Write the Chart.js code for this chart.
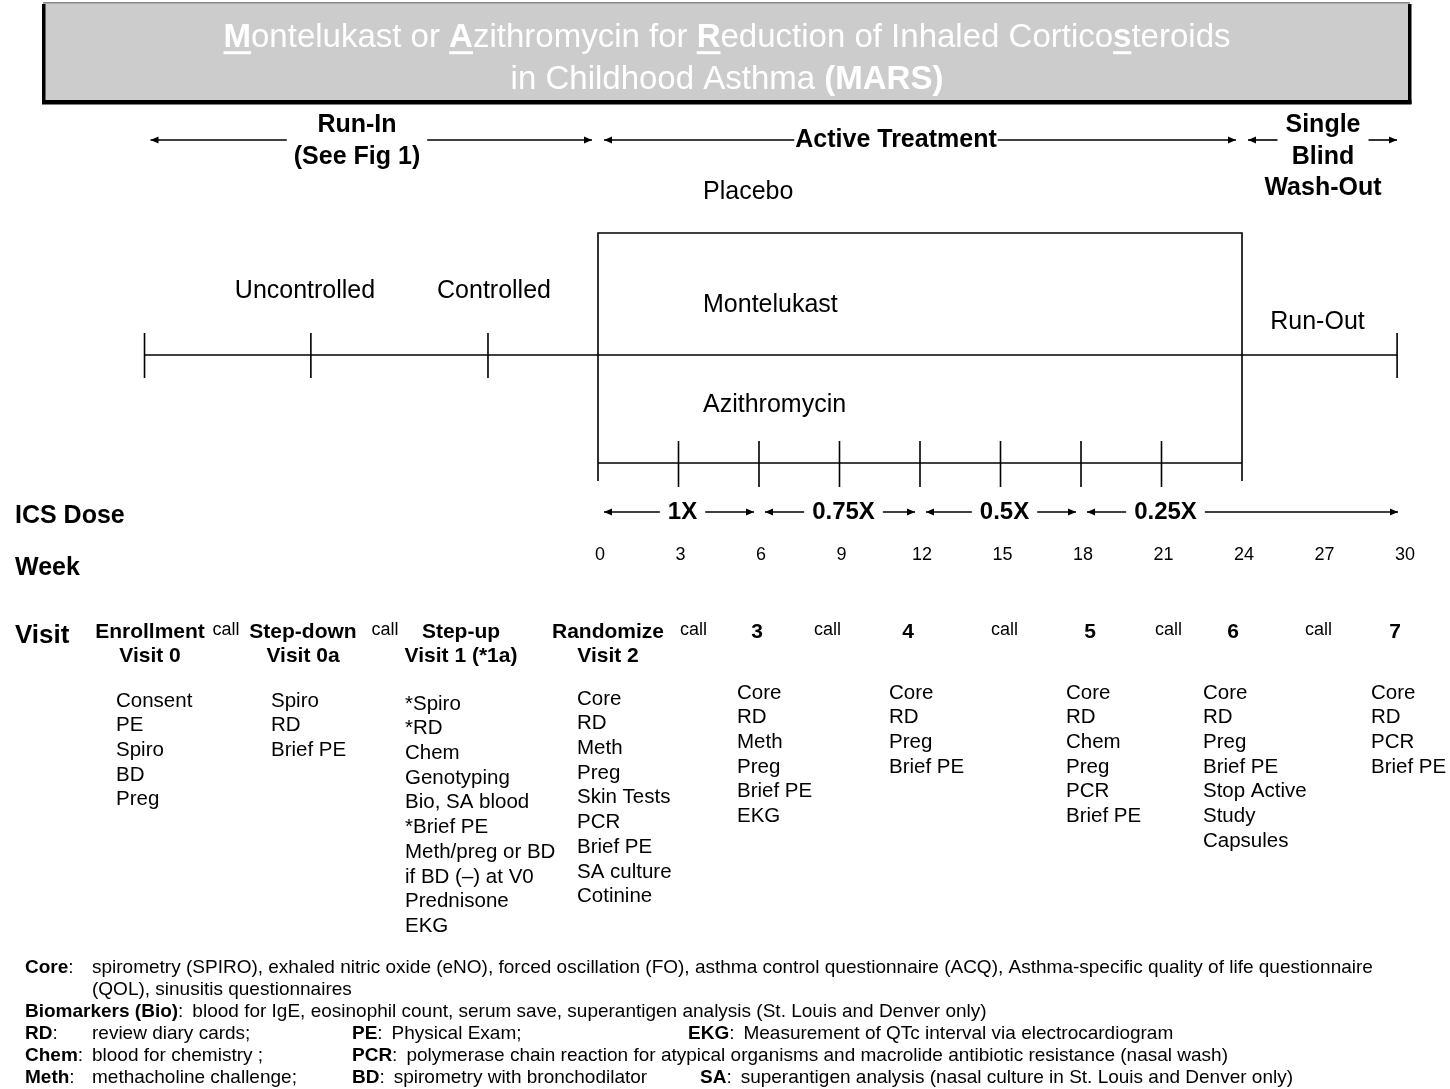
<!DOCTYPE html>
<html>
<head>
<meta charset="utf-8">
<title>MARS study design</title>
<script src="https://cdn.jsdelivr.net/npm/chart.js@4.4.1/dist/chart.umd.min.js"></script>
<style>
  html, body { margin: 0; padding: 0; background: #fff; }
  #wrap { position: relative; width: 1450px; height: 1089px; }
</style>
</head>
<body>
<div id="wrap"><canvas id="design"></canvas></div>
<script>
// ---- study timeline (weeks) ----
const weeks = [0, 3, 6, 9, 12, 15, 18, 21, 24, 27, 30];
const treatmentTicks = [3, 6, 9, 12, 15, 18, 21];
const treatmentStart = 0;
const treatmentEnd = 24;
const studyEnd = 30;

// run-in is drawn schematically before week 0 (not to scale)
const runInTicks = [-16.9, -10.7, -4.1];
const runInLabels = ['Uncontrolled', 'Controlled'];

const phaseNames = [['Run-In', '(See Fig 1)'], ['Active Treatment'], ['Single', 'Blind', 'Wash-Out']];
const phaseStart = [-16.9, 0, 24];
const phaseEnd = [0, 24, 30];

const armNames = ['Placebo', 'Montelukast', 'Azithromycin'];

const doseNames = ['1X', '0.75X', '0.5X', '0.25X'];
const doseStart = [0, 6, 12, 18];
const doseEnd = [6, 12, 18, 30];
const doseLabelWeek = [3, 9, 15, 21];

const runInVisitNames = [['Enrollment', 'Visit 0'], ['Step-down', 'Visit 0a'], ['Step-up', 'Visit 1 (*1a)']];
const visitWeeks = [0, 6, 12, 18, 24, 30];
const visitNames = [['Randomize', 'Visit 2'], ['3'], ['4'], ['5'], ['6'], ['7']];
const callWeeks = [3, 9, 15, 21, 27];

const visitProcedures = [
  ['Consent', 'PE', 'Spiro', 'BD', 'Preg'],
  ['Spiro', 'RD', 'Brief PE'],
  ['*Spiro', '*RD', 'Chem', 'Genotyping', 'Bio, SA blood', '*Brief PE', 'Meth/preg or BD', 'if BD (\u2013) at V0', 'Prednisone', 'EKG'],
  ['Core', 'RD', 'Meth', 'Preg', 'Skin Tests', 'PCR', 'Brief PE', 'SA culture', 'Cotinine'],
  ['Core', 'RD', 'Meth', 'Preg', 'Brief PE', 'EKG'],
  ['Core', 'RD', 'Preg', 'Brief PE'],
  ['Core', 'RD', 'Chem', 'Preg', 'PCR', 'Brief PE'],
  ['Core', 'RD', 'Preg', 'Brief PE', 'Stop Active', 'Study', 'Capsules'],
  ['Core', 'RD', 'PCR', 'Brief PE']
];

const glossaryTerms = ['Core', '', 'Biomarkers (Bio)', 'RD', 'PE', 'EKG', 'Chem', 'PCR', 'Meth', 'BD', 'SA'];
const glossaryTexts = [
  'spirometry (SPIRO), exhaled nitric oxide (eNO), forced oscillation (FO), asthma control questionnaire (ACQ), Asthma-specific quality of life questionnaire',
  '(QOL), sinusitis questionnaires',
  'blood for IgE, eosinophil count, serum save, superantigen analysis (St. Louis and Denver only)',
  'review diary cards;',
  'Physical Exam;',
  'Measurement of QTc interval via electrocardiogram',
  'blood for chemistry ;',
  'polymerase chain reaction for atypical organisms and macrolide antibiotic resistance (nasal wash)',
  'methacholine challenge;',
  'spirometry with bronchodilator',
  'superantigen analysis (nasal culture in St. Louis and Denver only)'
];

const titleLines = [
  [{ t: 'M', b: 1, u: 1 }, { t: 'ontelukast or ' }, { t: 'A', b: 1, u: 1 }, { t: 'zithromycin for ' },
   { t: 'R', b: 1, u: 1 }, { t: 'eduction of Inhaled Cortico' }, { t: 's', b: 1, u: 1 }, { t: 'teroids' }],
  [{ t: 'in Childhood Asthma ' }, { t: '(MARS)', b: 1 }]
];

// ---- layout ----
const PX_WEEK = 644 / 24;              // week 0 sits at x=598, week 24 at x=1242
const X_MIN = -598 / PX_WEEK;
const X_MAX = (1450 - 598) / PX_WEEK;
const FONT = '"Liberation Sans", Arial, sans-serif';
const ROW = {
  phase: 140, phaseLine: [125, 157, 188], boxTop: 233, runInLabel: 291,
  runOut: 322, timeline: 355, treat: 463, treatBottom: 481,
  dose: 512, doseLabel: 516, week: 555, weekLabel: 568, visit: 632, visit2: 656, visitLabel: 636
};
const phaseLabelX = [357, 896, 1323];
const phaseGap = [7, 1, 8];
const runInLabelX = [305, 494];
const armX = 703;
const armY = [192, 305, 405];
const runInVisitX = [150, 303, 461];
const runInCallX = [226, 385];
const visitOffset = [10, -2, -12, 9, -9, -8];   // visit header nudges (schematic, not to scale)
const callOffset = [15, -12, 4, 7, -4];
const listLeft = [116, 271, 405, 577, 737, 889, 1066, 1203, 1371];
const listTop = [701, 701, 704, 699, 693, 693, 693, 693, 693];
const LIST_STEP = 24.7;
const GLOSS_SIZE = 19;
const glossaryX = [25, 92, 25, 25, 352, 688, 25, 352, 25, 352, 700];
const glossaryY = [968, 990, 1012, 1034, 1034, 1034, 1056, 1056, 1078, 1078, 1078];
const GLOSS_TEXT_X = 92;

const seg = (pts, w) => ({
  data: pts.map(([x, y]) => ({ x, y })),
  showLine: true,
  borderColor: '#000',
  borderWidth: w || 1.6,
  pointRadius: 0,
  tension: 0,
  fill: false
});

const datasets = [];
// run-in + overall timeline
datasets.push(seg([[runInTicks[0], ROW.timeline], [studyEnd - 0.22, ROW.timeline]]));
runInTicks.concat([studyEnd - 0.22]).forEach(w => {
  datasets.push(seg([[w, ROW.timeline - 22], [w, ROW.timeline + 23]]));
});
// treatment arms box
datasets.push(seg([[treatmentStart, ROW.treatBottom], [treatmentStart, ROW.boxTop],
                   [treatmentEnd, ROW.boxTop], [treatmentEnd, ROW.treatBottom]]));
// treatment weeks line
datasets.push(seg([[treatmentStart, ROW.treat], [treatmentEnd, ROW.treat]]));
treatmentTicks.forEach(w => {
  datasets.push(seg([[w, ROW.treat - 22], [w, ROW.treat + 24]]));
});

function richWidth(ctx, parts, size) {
  let w = 0;
  parts.forEach(p => {
    ctx.font = (p.b ? 'bold ' : '') + size + 'px ' + FONT;
    w += ctx.measureText(p.t).width;
  });
  return w;
}

function drawRich(ctx, parts, x, y, size, align, color) {
  const total = richWidth(ctx, parts, size);
  let cx = align === 'center' ? x - total / 2 : x;
  ctx.fillStyle = color || '#000';
  ctx.textBaseline = 'middle';
  ctx.textAlign = 'left';
  parts.forEach(p => {
    ctx.font = (p.b ? 'bold ' : '') + size + 'px ' + FONT;
    const w = ctx.measureText(p.t).width;
    ctx.fillText(p.t, cx, y);
    if (p.u) ctx.fillRect(cx, y + size * 0.4, w, 3);
    cx += w;
  });
}

function text(ctx, s, x, y, size, bold, align) {
  ctx.font = (bold ? 'bold ' : '') + size + 'px ' + FONT;
  ctx.textAlign = align || 'center';
  ctx.textBaseline = 'middle';
  ctx.fillStyle = '#000';
  ctx.fillText(s, x, y);
}

function arrow(ctx, x1, x2, y, headAtStart) {
  ctx.strokeStyle = '#000';
  ctx.fillStyle = '#000';
  ctx.lineWidth = 1.6;
  ctx.beginPath();
  ctx.moveTo(x1, y);
  ctx.lineTo(x2, y);
  ctx.stroke();
  const hx = headAtStart ? x1 : x2;
  const d = headAtStart ? 1 : -1;
  ctx.beginPath();
  ctx.moveTo(hx, y);
  ctx.lineTo(hx + d * 8, y - 3.5);
  ctx.lineTo(hx + d * 8, y + 3.5);
  ctx.closePath();
  ctx.fill();
}

const diagram = {
  id: 'diagram',
  beforeDatasetsDraw(chart) {
    const ctx = chart.ctx;
    ctx.save();
    ctx.fillStyle = '#cccccc';
    ctx.fillRect(43, 3, 1367, 100);
    ctx.fillStyle = '#888';
    ctx.fillRect(43, 2, 1367, 1.5);
    ctx.fillStyle = '#000';
    ctx.fillRect(42, 4, 3.5, 100);
    ctx.fillRect(1408, 4, 3.5, 100);
    ctx.fillRect(42, 100, 1369.5, 4.5);
    drawRich(ctx, titleLines[0], 727, 38, 33, 'center', '#fff');
    drawRich(ctx, titleLines[1], 727, 80, 33, 'center', '#fff');
    ctx.restore();
  },
  afterDatasetsDraw(chart) {
    const ctx = chart.ctx;
    const xs = chart.scales.x;
    const ys = chart.scales.y;
    const px = w => xs.getPixelForValue(w);
    const py = r => ys.getPixelForValue(r);
    ctx.save();

    // phase headers with arrows
    phaseNames.forEach((lines, i) => {
      const cx = phaseLabelX[i];
      ctx.font = 'bold 25px ' + FONT;
      const half = Math.max(...lines.slice(0, 2).map(s => ctx.measureText(s).width)) / 2;
      lines.forEach((s, j) => text(ctx, s, cx, py(lines.length === 1 ? ROW.phase : ROW.phaseLine[j]), 25, true));
      arrow(ctx, px(phaseStart[i]) + 6, cx - half - phaseGap[i], py(ROW.phase), true);
      arrow(ctx, cx + half + phaseGap[i], px(phaseEnd[i]) - 6, py(ROW.phase), false);
    });

    // arms and run-in states
    armNames.forEach((s, i) => text(ctx, s, armX, py(armY[i]), 25, false, 'left'));
    runInLabels.forEach((s, i) => text(ctx, s, runInLabelX[i], py(ROW.runInLabel), 25, false));
    text(ctx, 'Run-Out', (px(treatmentEnd) + px(studyEnd)) / 2 - 5, py(ROW.runOut), 25, false);

    // ICS dose taper
    text(ctx, 'ICS Dose', 15, py(ROW.doseLabel), 25, true, 'left');
    doseNames.forEach((s, i) => {
      const cx = px(doseLabelWeek[i]) + 4;
      ctx.font = 'bold 24px ' + FONT;
      const half = ctx.measureText(s).width / 2;
      text(ctx, s, cx, py(ROW.dose), 24, true);
      arrow(ctx, px(doseStart[i]) + 6, cx - half - 8, py(ROW.dose), true);
      arrow(ctx, cx + half + 8, px(doseEnd[i]) - 5, py(ROW.dose), false);
    });

    // weeks
    text(ctx, 'Week', 15, py(ROW.weekLabel), 25, true, 'left');
    weeks.forEach(w => text(ctx, String(w), px(w) + 2, py(ROW.week), 18, false));

    // visits
    text(ctx, 'Visit', 15, py(ROW.visitLabel), 26, true, 'left');
    runInVisitNames.forEach((lines, i) => {
      text(ctx, lines[0], runInVisitX[i], py(ROW.visit), 21, true);
      text(ctx, lines[1], runInVisitX[i], py(ROW.visit2), 21, true);
    });
    runInCallX.forEach(x => text(ctx, 'call', x, py(ROW.visit - 2), 18, false));
    visitNames.forEach((lines, i) => {
      const cx = px(visitWeeks[i]) + visitOffset[i];
      lines.forEach((s, j) => text(ctx, s, cx, py(j ? ROW.visit2 : ROW.visit), 21, true));
    });
    callWeeks.forEach((w, i) => text(ctx, 'call', px(w) + callOffset[i], py(ROW.visit - 2), 18, false));

    // procedures at each visit
    visitProcedures.forEach((items, i) => {
      items.forEach((s, j) => text(ctx, s, listLeft[i], py(listTop[i] + j * LIST_STEP), 20.5, false, 'left'));
    });

    // glossary
    glossaryTerms.forEach((term, i) => {
      const x = glossaryX[i];
      const y = py(glossaryY[i]);
      if (!term) {
        drawRich(ctx, [{ t: glossaryTexts[i] }], x, y, GLOSS_SIZE, 'left');
        return;
      }
      const head = [{ t: term, b: 1 }, { t: ':' }];
      drawRich(ctx, head, x, y, GLOSS_SIZE, 'left');
      const tw = richWidth(ctx, head, GLOSS_SIZE);
      let tx = x + tw + 9;
      if (x === 25 && term.length < 6) tx = Math.max(GLOSS_TEXT_X, x + tw + 6);
      drawRich(ctx, [{ t: glossaryTexts[i] }], tx, y, GLOSS_SIZE, 'left');
    });

    ctx.restore();
  }
};

new Chart(document.getElementById('design'), {
  type: 'scatter',
  data: { datasets },
  options: {
    responsive: true,
    maintainAspectRatio: false,
    animation: false,
    layout: { padding: 0 },
    scales: {
      x: { type: 'linear', min: X_MIN, max: X_MAX, display: false },
      y: { type: 'linear', min: 0, max: 1089, reverse: true, display: false }
    },
    plugins: { legend: { display: false }, tooltip: { enabled: false } },
    elements: { line: { borderCapStyle: 'butt' } }
  },
  plugins: [diagram]
});
</script>
</body>
</html>
